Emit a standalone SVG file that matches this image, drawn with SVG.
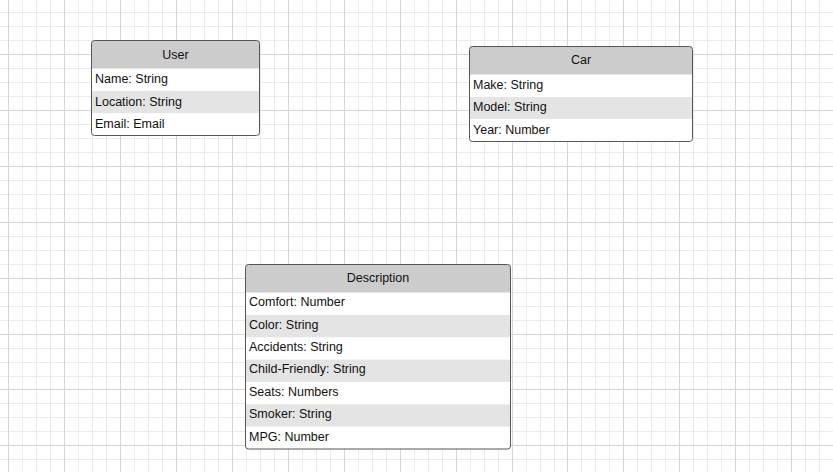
<svg xmlns="http://www.w3.org/2000/svg" width="833" height="472" viewBox="0 0 833 472">
<style>
.minor{stroke:#ebebeb;stroke-width:1;fill:none}
.major{stroke:#d6d6d6;stroke-width:1;fill:none}
.box{fill:#ffffff}
.outline{fill:none;stroke:#555555;stroke-width:1}
.head{fill:#cccccc}
.alt{fill:#e4e4e4}
.t{font-family:"Liberation Sans",Arial,sans-serif;font-size:12.5px;fill:#111111}
.h{text-anchor:middle}
</style>
<rect width="833" height="472" fill="#ffffff"/>
<g id="grid">
<path class="minor" d="M22.5 0V472M36.5 0V472M50.5 0V472M78.5 0V472M92.5 0V472M106.5 0V472M134.5 0V472M148.5 0V472M162.5 0V472M190.5 0V472M204.5 0V472M218.5 0V472M246.5 0V472M260.5 0V472M274.5 0V472M302.5 0V472M316.5 0V472M330.5 0V472M358.5 0V472M372.5 0V472M386.5 0V472M414.5 0V472M428.5 0V472M442.5 0V472M470.5 0V472M484.5 0V472M498.5 0V472M526.5 0V472M540.5 0V472M554.5 0V472M581.5 0V472M595.5 0V472M609.5 0V472M637.5 0V472M651.5 0V472M665.5 0V472M693.5 0V472M707.5 0V472M721.5 0V472M749.5 0V472M763.5 0V472M777.5 0V472M805.5 0V472M819.5 0V472
M0 12.5H833M0 26.5H833M0 40.5H833M0 68.5H833M0 82.5H833M0 96.5H833M0 124.5H833M0 138.5H833M0 152.5H833M0 180.5H833M0 194.5H833M0 208.5H833M0 236.5H833M0 250.5H833M0 264.5H833M0 292.5H833M0 306.5H833M0 320.5H833M0 348.5H833M0 362.5H833M0 376.5H833M0 403.5H833M0 417.5H833M0 431.5H833M0 459.5H833"/>
<path class="major" d="M8.5 0V472M64.5 0V472M120.5 0V472M176.5 0V472M232.5 0V472M288.5 0V472M344.5 0V472M400.5 0V472M456.5 0V472M512.5 0V472M567.5 0V472M623.5 0V472M679.5 0V472M735.5 0V472M791.5 0V472
M0 54.5H833M0 110.5H833M0 166.5H833M0 222.5H833M0 278.5H833M0 334.5H833M0 389.5H833M0 445.5H833"/>
</g>
<g id="connectors"/>
<g id="user">
<rect class="box" x="91.5" y="40.5" width="168" height="95" rx="3"/>
<path class="head" d="M91.5 68.5V43.5Q91.5 40.5 94.5 40.5H256.5Q259.5 40.5 259.5 43.5V68.5Z"/>
<rect class="alt" x="92" y="91" width="167" height="22"/>
<rect class="outline" x="91.5" y="40.5" width="168" height="95" rx="3"/>
<text class="t h" x="175.5" y="58.5">User</text>
<text class="t" x="95" y="83">Name: String</text>
<text class="t" x="95" y="105.5">Location: String</text>
<text class="t" x="95" y="127.5">Email: Email</text>
</g>
<g id="car">
<rect class="box" x="469.5" y="46.5" width="223" height="95" rx="3"/>
<path class="head" d="M469.5 74.5V49.5Q469.5 46.5 472.5 46.5H689.5Q692.5 46.5 692.5 49.5V74.5Z"/>
<rect class="alt" x="470" y="97" width="222" height="22"/>
<rect class="outline" x="469.5" y="46.5" width="223" height="95" rx="3"/>
<text class="t h" x="581" y="64">Car</text>
<text class="t" x="473" y="88.5">Make: String</text>
<text class="t" x="473" y="111">Model: String</text>
<text class="t" x="473" y="133.5">Year: Number</text>
</g>
<g id="description">
<rect class="box" x="245.5" y="264.5" width="265" height="184.5" rx="3"/>
<path class="head" d="M245.5 292.5V267.5Q245.5 264.5 248.5 264.5H507.5Q510.5 264.5 510.5 267.5V292.5Z"/>
<rect class="alt" x="246" y="315" width="264" height="22.3"/>
<rect class="alt" x="246" y="359.6" width="264" height="22.3"/>
<rect class="alt" x="246" y="404.3" width="264" height="22.3"/>
<rect class="outline" x="245.5" y="264.5" width="265" height="184.5" rx="3"/>
<text class="t h" x="378" y="281.5">Description</text>
<text class="t" x="249" y="305.5">Comfort: Number</text>
<text class="t" x="249" y="328.5">Color: String</text>
<text class="t" x="249" y="350.5">Accidents: String</text>
<text class="t" x="249" y="373">Child-Friendly: String</text>
<text class="t" x="249" y="395.5">Seats: Numbers</text>
<text class="t" x="249" y="417.5">Smoker: String</text>
<text class="t" x="249" y="440.5">MPG: Number</text>
</g>
</svg>
